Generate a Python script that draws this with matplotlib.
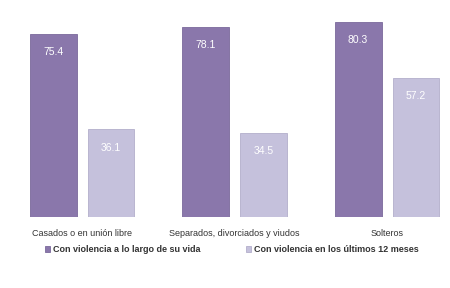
import matplotlib
matplotlib.use("Agg")
import matplotlib.pyplot as plt
import numpy as np

categories = ["Casados o en unión libre", "Separados, divorciados y viudos", "Solteros"]
series_names = ["Con violencia a lo largo de su vida", "Con violencia en los últimos 12 meses"]
vida = [75.4, 78.1, 80.3]
ultimos = [36.1, 34.5, 57.2]

dark = "#8a77ab"
light = "#c5c1dc"
fam = ["Liberation Sans Narrow", "Liberation Sans", "DejaVu Sans"]

fig = plt.figure(figsize=(4.5, 2.88), dpi=100)
ax = fig.add_axes([0, 0.2465, 1, 0.7535])
x = np.arange(len(categories))
w = 0.308
off = 0.19
b1 = ax.bar(x - off, vida, w, color=dark, edgecolor="#7a699b", linewidth=0.6, label=series_names[0])
b2 = ax.bar(x + off, ultimos, w, color=light, edgecolor="#b3aecb", linewidth=0.6, label=series_names[1])
for rect, v in zip(b1, vida):
    ax.text(rect.get_x() + rect.get_width() / 2, v - 7.5, f"{v:.1f}", ha="center", va="center",
            color="white", fontsize=7.5, family=fam)
for rect, v in zip(b2, ultimos):
    ax.text(rect.get_x() + rect.get_width() / 2, v - 7.5, f"{v:.1f}", ha="center", va="center",
            color="white", fontsize=7.5, family=fam)
ax.set_xlim(-0.538, 2.413)
ax.set_ylim(0, 89.3)
ax.axis("off")

for xi, c in zip(x, categories):
    fig.text((82 + 152.5 * xi) / 450, 1 - 233 / 288, c, ha="center", va="center",
             fontsize=6.5, family=fam, color="#333333")

leg = fig.legend(handles=[b1, b2], labels=series_names, loc="center", bbox_to_anchor=(0.515, 1 - 250 / 288),
                 ncol=2, frameon=False, handlelength=0.6, handleheight=0.6,
                 columnspacing=5.0, handletextpad=0.3, prop={"family": fam, "size": 6.5, "weight": "bold"})
for t in leg.get_texts():
    t.set_color("#333333")

fig.savefig("out.png", dpi=100, facecolor="white")
